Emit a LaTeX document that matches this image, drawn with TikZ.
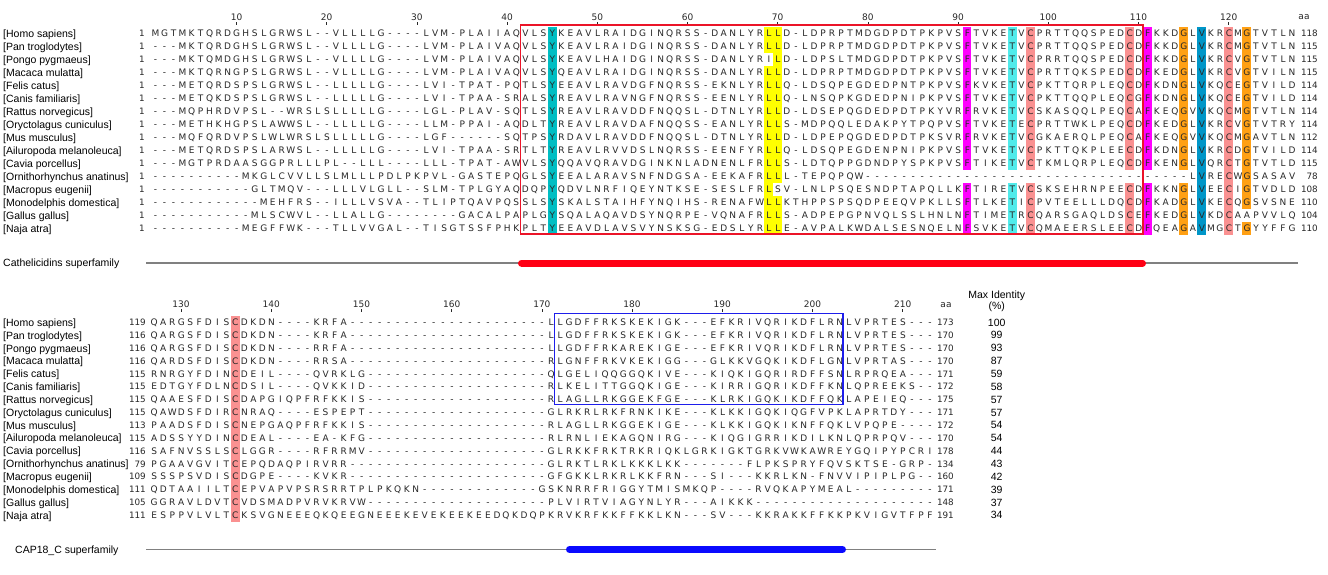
\documentclass[tikz,border=0pt]{standalone}
\usepackage{fontspec}
\setmainfont{Liberation Sans}
\newfontfamily\seqfont{DejaVu Sans}
\usetikzlibrary{positioning}
\definecolor{SeqGray}{RGB}{40,40,40}
\definecolor{HlTeal}{RGB}{0,190,195}
\definecolor{HlCyan}{RGB}{80,235,235}
\definecolor{HlYellow}{RGB}{255,255,0}
\definecolor{HlMagenta}{RGB}{255,0,255}
\definecolor{HlSalmon}{RGB}{250,145,145}
\definecolor{HlOrange}{RGB}{255,160,20}
\definecolor{HlBlue}{RGB}{0,150,200}
\definecolor{BoxRed}{RGB}{235,20,40}
\definecolor{BoxBlue}{RGB}{30,30,235}
\definecolor{BarRed}{RGB}{255,0,20}
\definecolor{BarBlue}{RGB}{10,10,255}
\definecolor{LineGray}{RGB}{128,128,128}
% one alignment column
\newlength\cellw \setlength\cellw{9.02pt}
\newcommand\gap[1]{\ifnum#1>0 -\expandafter\gap\expandafter{\the\numexpr#1-1\relax}\fi}
\def\seqloop#1{\ifx#1\relax\else\makebox[\cellw][c]{#1}\expandafter\seqloop\fi}
\newcommand\seqs[1]{\edef\seqtmp{#1}\expandafter\seqloop\seqtmp\relax}

\begin{document}
\begin{tikzpicture}[x=1pt,y=-1pt,
    spname/.style={anchor=base west,inner sep=0pt,font=\fontsize{10.5}{12}\selectfont},
    seqrow/.style={anchor=base west,inner sep=0pt,text=SeqGray,font=\seqfont\fontsize{9}{11}\selectfont},
    posnum/.style={anchor=base east,inner sep=0pt,text=SeqGray,font=\seqfont\fontsize{8.8}{10}\selectfont},
    rulenum/.style={anchor=base,inner sep=0pt,text=SeqGray,font=\seqfont\fontsize{9}{10}\selectfont},
    idnum/.style={anchor=base,inner sep=0pt,font=\fontsize{10.5}{12}\selectfont},
    rulertick/.style={SeqGray,line width=0.6pt}]
  \fill[white] (0,0) rectangle (1328,574);
  \useasboundingbox (0,0) rectangle (1328,574);

  % shaded columns, first block
  \foreach \col/\rfrom/\rto/\hc in {45/1/16/HlTeal, 69/1/2/HlYellow, 69/4/16/HlYellow,
      70/1/12/HlYellow, 70/14/16/HlYellow, 91/1/11/HlMagenta, 91/13/16/HlMagenta,
      96/1/11/HlCyan, 96/13/16/HlCyan, 98/1/11/HlSalmon, 98/13/16/HlSalmon,
      109/1/11/HlSalmon, 109/13/16/HlSalmon, 111/1/11/HlMagenta, 111/13/16/HlMagenta,
      115/1/11/HlOrange, 115/13/16/HlOrange, 117/1/16/HlBlue, 120/1/16/HlSalmon,
      122/1/14/HlOrange, 122/16/16/HlOrange}
    \fill[\hc] ({146.3+9.02*\col-4.3},{33.3+12.98*(\rfrom-1)-6.5})
      rectangle ({146.3+9.02*\col+4.3},{33.3+12.98*(\rto-1)+6.5});
  % shaded column, second block
  \fill[HlSalmon] ({145+90.2-4.3},{322.3-6.5}) rectangle ({145+90.2+4.3},{322.3+12.85*15+6.5});

  % rulers
  \foreach \n in {10,20,...,120} {
    \node[rulenum] (rt\n) at ({146.3+9.02*\n},20) {\n};
    \draw[rulertick] ({146.3+9.02*\n},22) -- ++(0,2.5);
  }
  \node[rulenum] (aatop) at (1304,19.5) {aa};
  \foreach \n in {130,140,...,210} {
    \node[rulenum] (rb\n) at ({145+9.02*(\n-126)},307.3) {\n};
    \draw[rulertick] ({145+9.02*(\n-126)},309) -- ++(0,2.5);
  }
  \node[rulenum] (aabot) at (946,307) {aa};

  % first block
  \foreach \spn/\seqstr/\en [count=\row] in {
    {Homo sapiens}/{MGTMKTQRDGHSLGRWSL--VLLLLG\gap{4}LVM-PLAIIAQVLSYKEAVLRAIDGINQRSS-DANLYRLLD-LDPRPTMDGDPDTPKPVSFTVKETVCPRTTQQSPEDCDFKKDGLVKRCMGTVTLN}/118,
    {Pan troglodytes}/{---MKTQRDGHSLGRWSL--VLLLLG\gap{4}LVM-PLAIVAQVLSYKEAVLRAIDGINQRSS-DANLYRLLD-LDPRPTMDGDPDTPKPVSFTVKETVCPRTTQQSPEDCDFKKDGLVKRCMGTVTLN}/115,
    {Pongo pygmaeus}/{---MKTQMDGHSLGRWSL--VLLLLG\gap{4}LVM-PLAIVAQVLSYKEAVLHAIDGINQRSS-DANLYRILD-LDPSLTMDGDPDTPKPVSFTVKETVCPRRTQQSPEDCDFKKDGLVKRCVGTVTLN}/115,
    {Macaca mulatta}/{---MKTQRNGPSLGRWSL--VLLLLG\gap{4}LVM-PLAIVAQVLSYQEAVLRAIDGINQRSS-DANLYRLLD-LDPRPTMDGDPDTPKPVSFTVKETVCPRTTQKSPEDCDFKEDGLVKRCVGTVILN}/115,
    {Felis catus}/{---METQRDSPSLGRWSL--LLLLLG\gap{4}LVI-TPAT-PQTLSYEEAVLRAVDGFNQRSS-EKNLYRLLQ-LDSQPEGDEDPNTPKPVSFKVKETVCPKTTQRPLEQCDFKDNGLVKQCEGTVILD}/114,
    {Canis familiaris}/{---METQKDSPSLGRWSL--LLLLLG\gap{4}LVI-TPAA-SRALSYREAVLRAVNGFNQRSS-EENLYRLLQ-LNSQPKGDEDPNIPKPVSFTVKETVCPKTTQQPLEQCGFKDNGLVKQCEGTVILD}/114,
    {Rattus norvegicus}/{---MQPHRDVPSL--WRSLSLLLLLG\gap{4}LGL-PLAV-SQTLSYREAVLRAVDDFNQQSL-DTNLYRLLD-LDSEPQGDEDPDTPKYVRFRVKETVCSKASQQLPEQCAFKEQGVVKQCMGTVTLN}/114,
    {Oryctolagus cuniculus}/{---METHKHGPSLAWWSL--LLLLLG\gap{4}LLM-PPAI-AQDLTYREAVLRAVDAFNQQSS-EANLYRLLS-MDPQQLEDAKPYTPQPVSFTVKETECPRTTWKLPEQCDFKEDGLVKRCVGTVTRY}/114,
    {Mus musculus}/{---MQFQRDVPSLWLWRSLSLLLLLG\gap{4}LGF\gap{6}SQTPSYRDAVLRAVDDFNQQSL-DTNLYRLLD-LDPEPQGDEDPDTPKSVRFRVKETVCGKAERQLPEQCAFKEQGVVKQCMGAVTLN}/112,
    {Ailuropoda melanoleuca}/{---METQRDSPSLARWSL--LLLLLG\gap{4}LVI-TPAA-SRTLTYREAVLRVVDSLNQRSS-EENFYRLLQ-LDSQPEGDENPNIPKPVSFTVKETVCPKTTQKPLEECDFKDNGLVKRCDGTVILD}/114,
    {Cavia porcellus}/{---MGTPRDAASGGPRLLLPL--LLL\gap{4}LLL-TPAT-AWVLSYQQAVQRAVDGINKNLADNENLFRLLS-LDTQPPGDNDPYSPKPVSFTIKETVCTKMLQRPLEQCDFKENGLVQRCTGTVTLD}/115,
    {Ornithorhynchus anatinus}/{\gap{10}MKGLCVVLLSLMLLLPDLPKPVL-GASTEPQGLSYEEALARAVSNFNDGSA-EEKAFRLLL-TEPQPQW\gap{36}LVRECWGSASAV}/78,
    {Macropus eugenii}/{\gap{11}GLTMQV---LLLVLGLL--SLM-TPLGYAQDQPYQDVLNRFIQEYNTKSE-SESLFRLSV-LNLPSQESNDPTAPQLLKFTIRETVCSKSEHRNPEECDFKKNGLVEECIGTVDLD}/108,
    {Monodelphis domestica}/{\gap{12}MEHFRS--ILLLVSVA--TLIPTQAVPQSSLSYSKALSTAIHFYNQIHS-RENAFWLLKTHPPSPSQDPEEQVPKLLSFTLKETICPVTEELLLDQCDFKADGLVKECQGSVSNE}/110,
    {Gallus gallus}/{\gap{11}MLSCWVL--LLALLG\gap{8}GACALPAPLGYSQALAQAVDSYNQRPE-VQNAFRLLS-ADPEPGPNVQLSSLHNLNFTIMETRCQARSGAQLDSCEFKEDGLVKDCAAPVVLQ}/104,
    {Naja atra}/{\gap{10}MEGFFWK---TLLVVGAL--TISGTSSFPHKPLTYEEAVDLAVSVYNSKSG-EDSLYRLLE-AVPALKWDALSESNQELNFSVKETVCQMAEERSLEECDFQEAGAVMGCTGYYFFG}/110} {
    \pgfmathsetmacro\yy{33.3+12.98*(\row-1)}
    \node[spname] (tname\row) at (3,{\yy+4}) {[\spn]};
    \node[posnum] (tstart\row) at (145,{\yy+3.4}) {1};
    \node[seqrow] (tseq\row) at (150.8,{\yy+3.4}) {\seqs{\seqstr}};
    \node[posnum] (tend\row) at (1318,{\yy+3.4}) {\en};
  }
  \draw[BoxRed,line width=1.4pt] (520.6,25) rectangle (1142.8,234);

  \node[spname] (famtop) at (3,266) {Cathelicidins superfamily};
  \draw[LineGray,line width=1.5pt] (146,263) -- (1298,263);
  \draw[BarRed,line width=7pt,line cap=round] (521.5,263) -- (1142.5,263);

  % second block
  \node[idnum] (idhead) at (996.7,298) {Max Identity};
  \node[idnum] (idunit) at (996.7,309.5) {(\%)};
  \foreach \spn/\stn/\seqstr/\en/\pid [count=\row] in {
    {Homo sapiens}/119/{QARGSFDISCDKDN\gap{4}KRFA\gap{22}LLGDFFRKSKEKIGK---EFKRIVQRIKDFLRNLVPRTES---}/173/100,
    {Pan troglodytes}/116/{QARGSFDISCDKDN\gap{4}KRFA\gap{22}LLGDFFRKSKEKIGK---EFKRIVQRIKDFLRNLVPRTES---}/170/99,
    {Pongo pygmaeus}/116/{QARGSFDISCDKDN\gap{4}RRFA\gap{22}LLGDFFRKAREKIGE---EFKRIVQRIKDFLRNLVPRTES---}/170/93,
    {Macaca mulatta}/116/{QARDSFDISCDKDN\gap{4}RRSA\gap{22}RLGNFFRKVKEKIGG---GLKKVGQKIKDFLGNLVPRTAS---}/170/87,
    {Felis catus}/115/{RNRGYFDINCDEIL\gap{4}QVRKLG\gap{20}QLGELIQQGGQKIVE---KIQKIGQRIRDFFSNLRPRQEA---}/171/59,
    {Canis familiaris}/115/{EDTGYFDLNCDSIL\gap{4}QVKKID\gap{20}RLKELITTGGQKIGE---KIRRIGQRIKDFFKNLQPREEKS--}/172/58,
    {Rattus norvegicus}/115/{QAAESFDISCDAPGIQPFRFKKIS\gap{20}RLAGLLRKGGEKFGE---KLRKIGQKIKDFFQKLAPEIEQ---}/175/57,
    {Oryctolagus cuniculus}/115/{QAWDSFDIRCNRAQ\gap{4}ESPEPT\gap{20}GLRKRLRKFRNKIKE---KLKKIGQKIQGFVPKLAPRTDY---}/171/57,
    {Mus musculus}/113/{PAADSFDISCNEPGAQPFRFKKIS\gap{20}RLAGLLRKGGEKIGE---KLKKIGQKIKNFFQKLVPQPE\gap{4}}/172/54,
    {Ailuropoda melanoleuca}/115/{ADSSYYDINCDEAL\gap{4}EA-KFG\gap{20}RLRNLIEKAGQNIRG---KIQGIGRRIKDILKNLQPRPQV---}/170/54,
    {Cavia porcellus}/116/{SAFNVSSLSCLGGR\gap{4}RFRRMV\gap{20}GLRKKFRKTRKRIQKLGRKIGKTGRKVWKAWREYGQIPYPCRI}/178/44,
    {Ornithorhynchus anatinus}/79/{PGAAVGVITCEPQDAQPIRVRR\gap{22}GLRKTLRKLKKKLKK\gap{7}FLPKSPRYFQVSKTSE-GRP-}/134/43,
    {Macropus eugenii}/109/{SSSPSVDISCDGPE\gap{4}KVKR\gap{22}GFGKKLRKRLKKFRN---SI---KKRLKN-FNVVIPIPLPG--}/160/42,
    {Monodelphis domestica}/111/{QDTAAIILTCEPVAPVPSRSRRTPLPKQKN\gap{13}GSKNRRFRIGGYTMISMKQP\gap{4}RVQKAPYMEAL\gap{9}}/171/39,
    {Gallus gallus}/105/{GGRAVLDVTCVDSMADPVRVKRVW\gap{20}PLVIRTVIAGYNLYR---AIKKK\gap{20}}/148/37,
    {Naja atra}/111/{ESPPVLVLTCKSVGNEEEQKQEEGNEEEKEVEKEEKEEDQKDQPKRVKRFKKFFKKLKN---SV---KKRAKKFFKKPKVIGVTFPF}/191/34} {
    \pgfmathsetmacro\yy{322.3+12.85*(\row-1)}
    \node[spname] (bname\row) at (3,{\yy+4}) {[\spn]};
    \node[posnum] (bstart\row) at (146,{\yy+3.4}) {\stn};
    \node[seqrow] (bseq\row) at (149.5,{\yy+3.4}) {\seqs{\seqstr}};
    \node[posnum] (bend\row) at (954,{\yy+3.4}) {\en};
    \node[idnum] (bid\row) at (996.7,{\yy+3.8}) {\pid};
  }
  \draw[BoxBlue,line width=1.4pt] (554.6,313.5) rectangle (842.9,404.3);

  \node[spname] (fambot) at (15,553) {CAP18\_C superfamily};
  \draw[LineGray,line width=1.5pt] (146,549.5) -- (936,549.5);
  \draw[BarBlue,line width=7pt,line cap=round] (569.5,549.5) -- (842.5,549.5);
\end{tikzpicture}
\end{document}
